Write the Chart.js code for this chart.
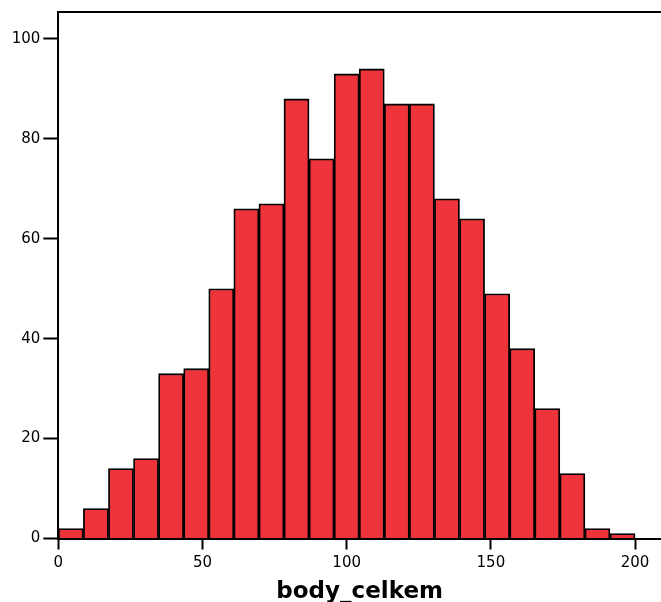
<!DOCTYPE html>
<html>
<head>
<meta charset="utf-8">
<script src="https://cdn.jsdelivr.net/npm/chart.js@4/dist/chart.umd.min.js"></script>
<style>
  html, body { margin: 0; padding: 0; background: #fff; overflow: hidden; }
  #wrap { width: 661px; height: 602px; }
</style>
</head>
<body>
<div id="wrap"><canvas id="canvas" width="661" height="602"></canvas></div>
<script>
// histogram of body_celkem, 23 bins from 0 to 200
var binStart = 0;
var binEnd = 200;
var counts = [2, 6, 14, 16, 33, 34, 50, 66, 67, 88, 76, 93, 94, 87, 87, 68, 64, 49, 38, 26, 13, 2, 1];
var xTicks = [0, 50, 100, 150, 200];
var yTicks = [0, 20, 40, 60, 80, 100];
var xTitle = 'body_celkem';

var binWidth = (binEnd - binStart) / counts.length;
var points = [];
counts.forEach(function (c, i) {
    points.push({ x: binStart + binWidth * (i + 0.5), y: c });
});

// top frame line
var frameTop = {
    id: 'frameTop',
    afterDraw: function (chart) {
        var a = chart.chartArea;
        var ctx = chart.ctx;
        ctx.save();
        ctx.strokeStyle = '#000';
        ctx.lineWidth = 2;
        ctx.beginPath();
        ctx.moveTo(a.left - 1, a.top);
        ctx.lineTo(chart.width, a.top);
        ctx.stroke();
        ctx.restore();
    }
};

var config = {
    type: 'bar',
    data: {
        datasets: [{
            data: points,
            backgroundColor: '#EF333B',
            borderColor: '#000',
            borderWidth: 1.8,
            barPercentage: 1,
            categoryPercentage: 1
        }]
    },
    options: {
        responsive: false,
        animation: false,
        layout: { padding: { left: 0, right: 0, top: 11.5, bottom: 0 } },
        plugins: { legend: { display: false }, tooltip: { enabled: false } },
        scales: {
            x: {
                type: 'linear',
                min: 0,
                max: 209,
                offset: false,
                afterBuildTicks: function (s) {
                    s.ticks = xTicks.map(function (v) { return { value: v }; });
                },
                afterFit: function (s) { s.height = 63.5; },
                grid: { drawOnChartArea: false, offset: false, tickLength: 11, tickWidth: 2, tickColor: '#000' },
                border: { display: true, color: '#000', width: 2 },
                ticks: { color: '#000', padding: 5, maxRotation: 0, font: { family: 'DejaVu Sans', size: 15 } },
                title: {
                    display: true,
                    text: xTitle,
                    color: '#000',
                    padding: 0,
                    font: { family: 'DejaVu Sans', size: 23, weight: 'bold', lineHeight: 0.9 }
                }
            },
            y: {
                min: 0,
                max: 105.4,
                afterBuildTicks: function (s) {
                    s.ticks = yTicks.map(function (v) { return { value: v }; });
                },
                afterFit: function (s) { s.width = 58.3; },
                grid: { drawOnChartArea: false, tickLength: 15, tickWidth: 2, tickColor: '#000' },
                border: { display: true, color: '#000', width: 2 },
                ticks: { color: '#000', padding: 3, font: { family: 'DejaVu Sans', size: 15 } }
            }
        }
    },
    plugins: [frameTop]
};

window.onload = function () {
    var ctx = document.getElementById('canvas').getContext('2d');
    window.myHist = new Chart(ctx, config);
};
</script>
</body>
</html>
